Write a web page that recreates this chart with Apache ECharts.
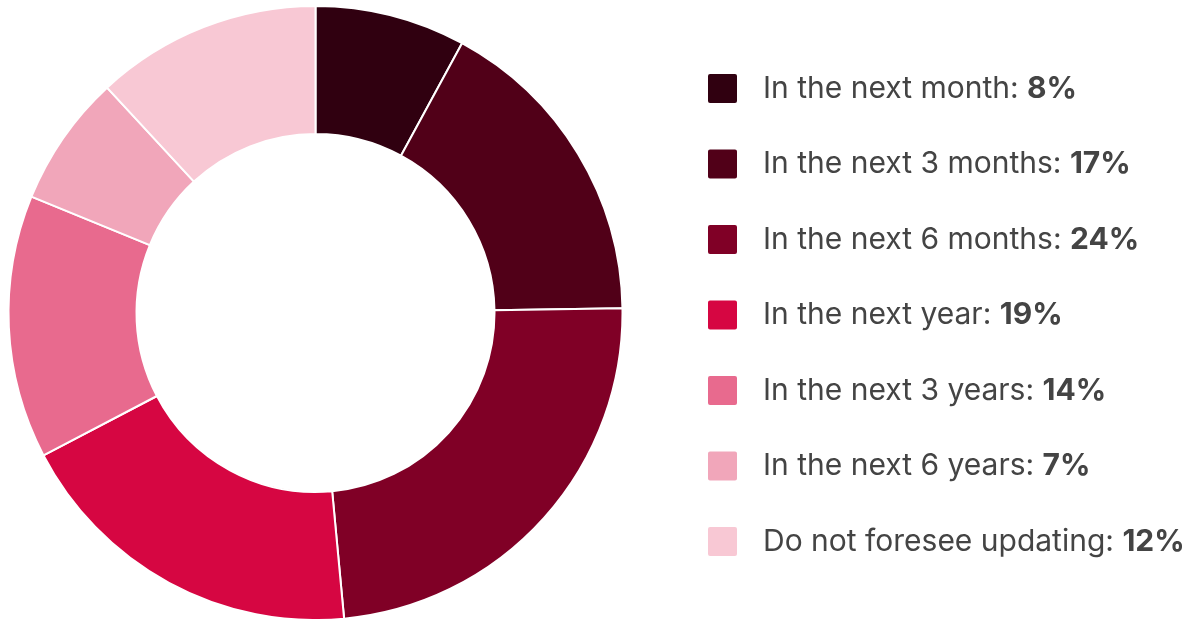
<!DOCTYPE html>
<html>
<head>
<meta charset="utf-8">
<script src="https://cdn.jsdelivr.net/npm/echarts@6/dist/echarts.min.js"></script>
<style>
html,body{margin:0;padding:0;background:#fff;}
#chart{width:1188px;height:619px;}
</style>
</head>
<body>
<div id="chart"></div>
<script>
const categories = ["In the next month", "In the next 3 months", "In the next 6 months", "In the next year", "In the next 3 years", "In the next 6 years", "Do not foresee updating"];
const values = [8, 17, 24, 19, 14, 7, 12];
const colors = ["#300010", "#510018", "#800026", "#d60642", "#e86a8e", "#f1a6ba", "#f8c8d4"];

const chart = echarts.init(document.getElementById('chart'));
const lookup = {};
categories.forEach((c, i) => lookup[c] = values[i]);
const FONT = 'Inter, Liberation Sans, Arial, sans-serif';

chart.setOption({
  animation: false,
  color: colors,
  legend: {
    orient: 'vertical',
    left: 706,
    top: 72,
    padding: 0,
    itemWidth: 31,
    itemHeight: 31,
    itemGap: 42.5,
    icon: 'path://M3,0 L28,0 Q31,0 31,3 L31,28 Q31,31 28,31 L3,31 Q0,31 0,28 L0,3 Q0,0 3,0 Z',
    selectedMode: false,
    data: categories,
    formatter: name => '{a|' + name + ': }{b|' + lookup[name] + '%}',
    textStyle: {
      padding: [0, 0, 0, 20],
      lineHeight: 31,
      rich: {
        a: { fontFamily: FONT, fontSize: 30, color: '#444', lineHeight: 31 },
        b: { fontFamily: FONT, fontSize: 30, fontWeight: 'bold', color: '#444', lineHeight: 31 }
      }
    }
  },
  series: [{
    type: 'pie',
    center: [315.5, 313],
    radius: [179, 307],
    startAngle: 90,
    clockwise: true,
    label: { show: false },
    labelLine: { show: false },
    emphasis: { disabled: true },
    itemStyle: { borderColor: '#fff', borderWidth: 2 },
    data: categories.map((c, i) => ({ name: c, value: values[i] }))
  }]
});
</script>
</body>
</html>
